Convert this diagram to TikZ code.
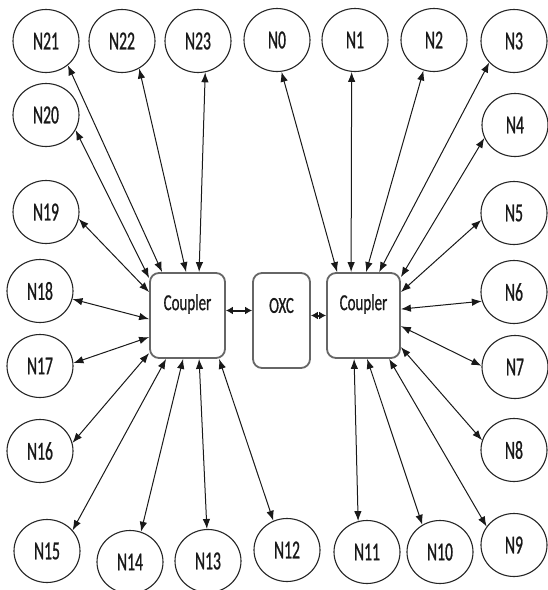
\documentclass[tikz,border=0pt]{standalone}
\usepackage{fontspec}
\setmainfont{Carlito}
\newfontfamily\nfont[FakeStretch=0.6,FakeBold=0.8]{Carlito}
\newfontfamily\cfont[FakeStretch=0.65,FakeBold=0.6]{Carlito}
\usetikzlibrary{shapes.geometric,arrows.meta,calc}
\tikzset{
  nd/.style={ellipse, draw=black!85, line width=1.1pt, minimum width=66pt, minimum height=63pt,
    inner sep=0pt, font=\nfont\fontsize{26}{26}\selectfont, text=black!90},
  boxnode/.style={draw=black!60, line width=1.8pt, rounded corners=9pt, fill=white, inner sep=0pt},
  lbl/.style={font=\cfont\fontsize{23}{23}\selectfont, text=black!90, inner sep=0pt},
  conn/.style={{Latex[length=10pt,width=7.5pt]}-{Latex[length=10pt,width=7.5pt]}, line width=1pt, draw=black!90},
  bconn/.style={{Latex[length=7pt,width=8pt]}-{Latex[length=7pt,width=8pt]}, line width=2pt, draw=black!90}
}
\begin{document}
\begin{tikzpicture}[x=1pt,y=-1pt]
\fill[white] (0,0) rectangle (548,590);
\useasboundingbox (0,0) rectangle (548,590);

% boxes
\node[boxnode, minimum width=75pt, minimum height=85pt] (cL) at (187.5,315.5) {};
\node[boxnode, minimum width=57pt, minimum height=95pt] (oxc) at (281.5,320.5) {};
\node[boxnode, minimum width=73pt, minimum height=85pt] (cR) at (363.5,315.5) {};
\node[lbl] (tL) at (187.5,304) {Coupler};
\node[lbl] (tO) at (281.5,305.5) {OXC};
\node[lbl] (tR) at (363.5,304) {Coupler};

% ellipses
\node[nd] (n21) at (46,41) {N21};
\node[nd] (n22) at (122,41) {N22};
\node[nd] (n23) at (198,41) {N23};
\node[nd] (n0) at (277,40) {N0};
\node[nd] (n1) at (355,40) {N1};
\node[nd] (n2) at (434,40) {N2};
\node[nd] (n3) at (514,41) {N3};
\node[nd] (n4) at (515,125) {N4};
\node[nd] (n5) at (514,213) {N5};
\node[nd] (n6) at (514,292) {N6};
\node[nd] (n7) at (515,367) {N7};
\node[nd] (n8) at (514,450) {N8};
\node[nd] (n9) at (514,545) {N9};
\node[nd] (n10) at (440,552) {N10};
\node[nd] (n11) at (367,552) {N11};
\node[nd] (n12) at (287,550) {N12};
\node[nd] (n13) at (208,561) {N13};
\node[nd] (n14) at (130,562) {N14};
\node[nd] (n15) at (47,551) {N15};
\node[nd] (n16) at (40,451) {N16};
\node[nd] (n17) at (40,366) {N17};
\node[nd] (n18) at (40,291) {N18};
\node[nd] (n19) at (46,212) {N19};
\node[nd] (n20) at (46,115) {N20};

% attachment points on left coupler
\coordinate (l21) at ($(cL.north west)+(13,0)$);
\coordinate (l22) at ($(cL.north west)+(37,0)$);
\coordinate (l23) at ($(cL.north west)+(50,0)$);
\coordinate (l20) at ($(cL.north west)+(0,6)$);
\coordinate (l19) at ($(cL.north west)+(0,20)$);
\coordinate (l18) at ($(cL.north west)+(0,47)$);
\coordinate (l17) at ($(cL.north west)+(0,65)$);
\coordinate (l16) at ($(cL.north west)+(0,81)$);
\coordinate (l15) at ($(cL.south west)+(17,0)$);
\coordinate (l14) at ($(cL.south west)+(34,0)$);
\coordinate (l13) at ($(cL.south west)+(50,0)$);
\coordinate (l12) at ($(cL.south west)+(70,0)$);
% attachment points on right coupler
\coordinate (r0) at ($(cR.north west)+(11,0)$);
\coordinate (r1) at ($(cR.north west)+(25,0)$);
\coordinate (r2) at ($(cR.north west)+(40,0)$);
\coordinate (r3) at ($(cR.north west)+(53,0)$);
\coordinate (r4) at ($(cR.north east)+(0,5)$);
\coordinate (r5) at ($(cR.north east)+(0,20)$);
\coordinate (r6) at ($(cR.north east)+(0,37)$);
\coordinate (r7) at ($(cR.north east)+(0,54)$);
\coordinate (r8) at ($(cR.north east)+(0,75)$);
\coordinate (r9) at ($(cR.south west)+(63,0)$);
\coordinate (r10) at ($(cR.south west)+(41,0)$);
\coordinate (r11) at ($(cR.south west)+(28,0)$);

% connectors, left
\draw[conn] (l21) -- (n21.-48);
\draw[conn] (l22) -- (n22.-58);
\draw[conn] (l23) -- (n23.-77);
\draw[conn] (l20) -- (n20.-27);
\draw[conn] (l19) -- (n19.-12);
\draw[conn] (l18) -- (n18.-14);
\draw[conn] (l17) -- (n17.5);
\draw[conn] (l16) -- (n16.14);
\draw[conn] (l15) -- (n15.39);
\draw[conn] (l14) -- (n14.70);
\draw[conn] (l13) -- (n13.92);
\draw[conn] (l12) -- (n12.115);
% connectors, right
\draw[conn] (r0) -- (n0.-82);
\draw[conn] (r1) -- (n1.-96);
\draw[conn] (r2) -- (n2.-109);
\draw[conn] (r3) -- (n3.-139);
\draw[conn] (r4) -- (n4.-157);
\draw[conn] (r5) -- (n5.-168);
\draw[conn] (r6) -- (n6.-164);
\draw[conn] (r7) -- (n7.178);
\draw[conn] (r8) -- (n8.163);
\draw[conn] (r9) -- (n9.146);
\draw[conn] (r10) -- (n10.123);
\draw[conn] (r11) -- (n11.106);

% OXC links
\draw[bconn] ($(cL.east)+(0,-5)$) -- ($(oxc.west)+(0,-10)$);
\draw[bconn] ($(oxc.east)+(0,-5)$) -- (cR.west);
\end{tikzpicture}
\end{document}
